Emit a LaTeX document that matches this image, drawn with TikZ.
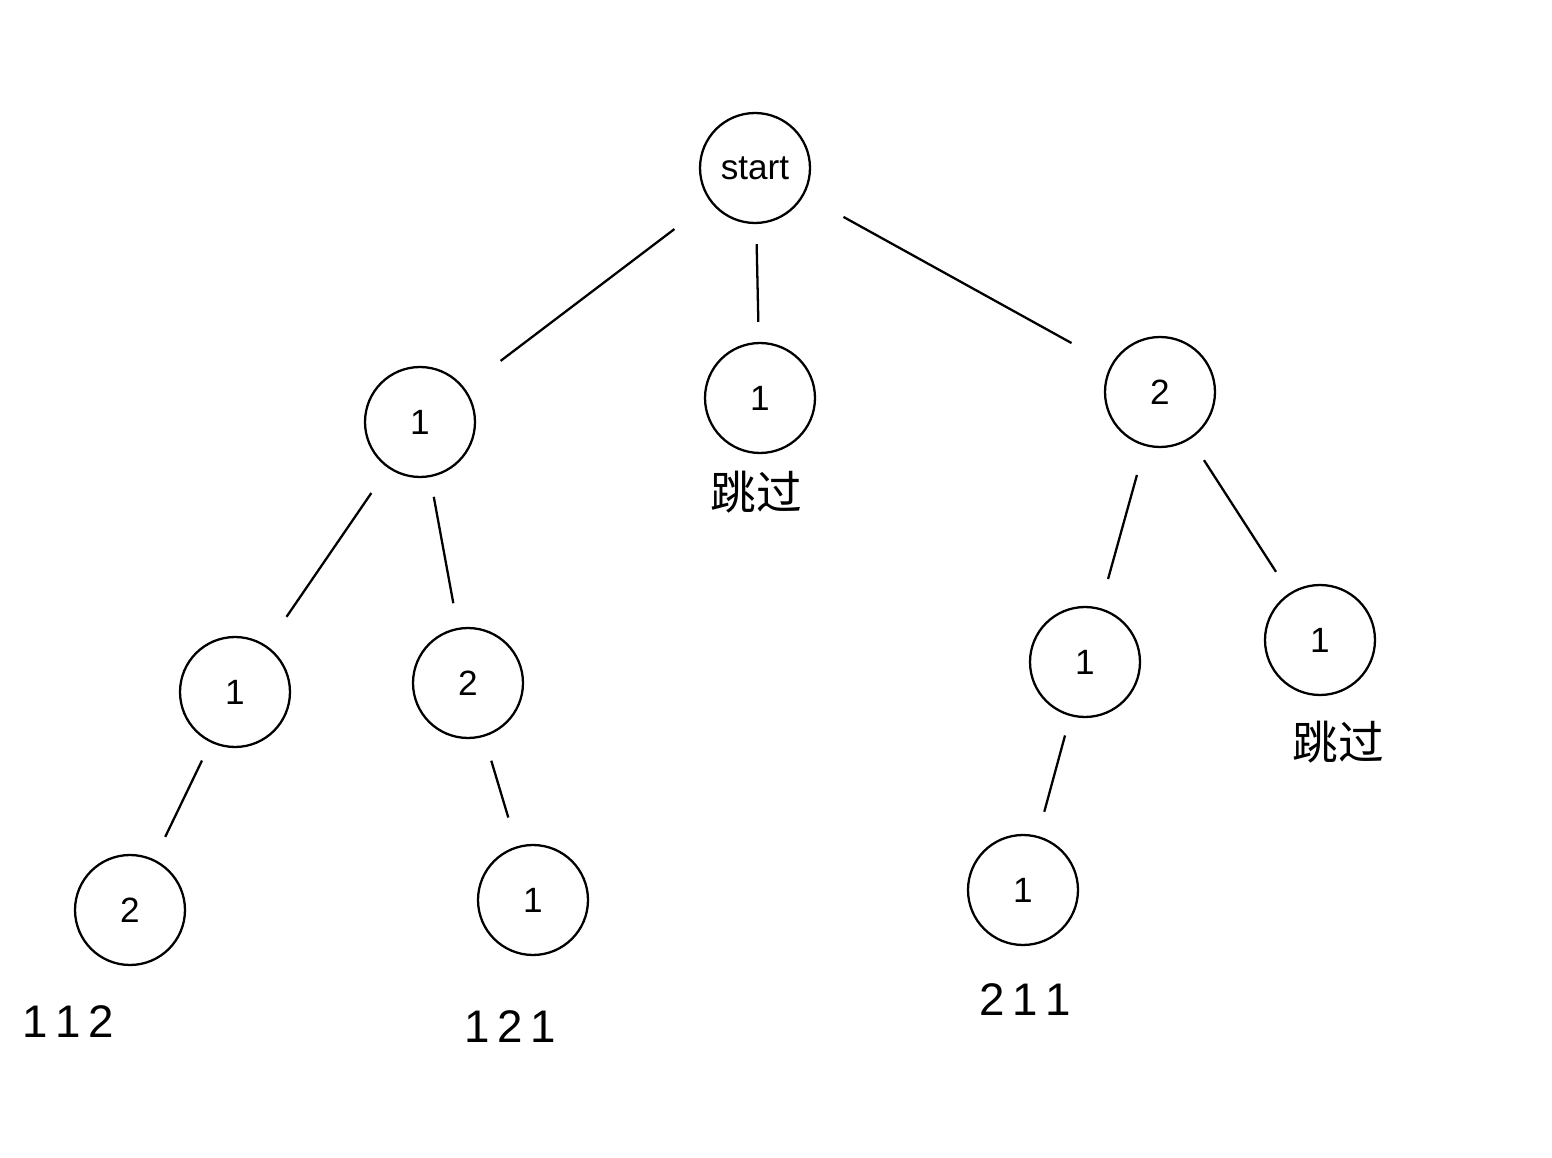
\documentclass[tikz,border=0pt]{standalone}
\usepackage{fontspec}
\setmainfont{Liberation Sans}
\newfontfamily\cjk{Noto Sans CJK SC}
\begin{document}
\begin{tikzpicture}[x=0.02cm,y=-0.02cm,
  nd/.style={circle,draw,line width=1.3pt,minimum size=2.2cm,inner sep=0pt,font=\fontsize{20}{20}\selectfont},
  ed/.style={line width=1.3pt,shorten <=0.9cm,shorten >=0.9cm},
  lab/.style={font=\fontsize{26}{26}\selectfont}]
\useasboundingbox (0,0) rectangle (1552,1158);
\node[nd] (s) at (755,168) {start};
\node[nd] (a) at (420,422) {1};
\node[nd] (b) at (760,398) {1};
\node[nd] (c) at (1160,392) {2};
\node[nd] (aa) at (235,692) {1};
\node[nd] (ab) at (468,683) {2};
\node[nd] (ca) at (1085,662) {1};
\node[nd] (cb) at (1320,640) {1};
\node[nd] (aaa) at (130,910) {2};
\node[nd] (aba) at (533,900) {1};
\node[nd] (caa) at (1023,890) {1};
\draw[ed] (s) -- (a);
\draw[ed,shorten <=0.4cm,shorten >=0.4cm] (s) -- (b);
\draw[ed] (s) -- (c);
\draw[ed,shorten <=0.6cm,shorten >=0.7cm] (a) -- (aa);
\draw[ed,shorten <=0.4cm,shorten >=0.5cm] (a) -- (ab);
\draw[ed,shorten <=0.6cm,shorten >=0.6cm] (c) -- (ca);
\draw[ed,shorten <=0.5cm,shorten >=0.5cm] (c) -- (cb);
\draw[ed,shorten <=0.4cm,shorten >=0.5cm] (aa) -- (aaa);
\draw[ed,shorten <=0.5cm,shorten >=0.6cm] (ab) -- (aba);
\draw[ed,shorten <=0.4cm,shorten >=0.5cm] (ca) -- (caa);
\node[lab] (t1) at (756,492) {\cjk 跳过};
\node[lab] (t2) at (1338,742) {\cjk 跳过};
\node[lab] (r1) at (68,1022) {1\,1\,2};
\node[lab] (r2) at (510,1027) {1\,2\,1};
\node[lab] (r3) at (1025,1000) {2\,1\,1};
\end{tikzpicture}
\end{document}
